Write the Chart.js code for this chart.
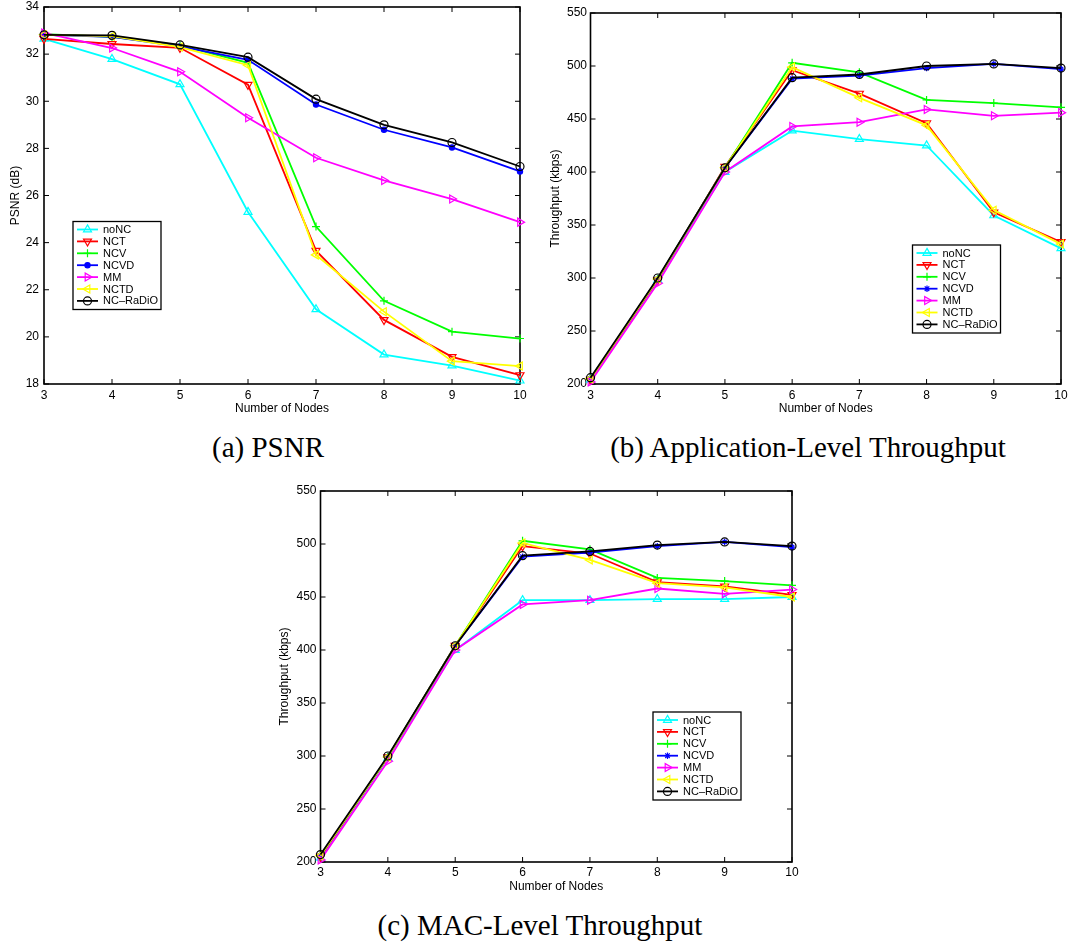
<!DOCTYPE html>
<html>
<head>
<meta charset="utf-8">
<title>NC-RaDiO results</title>
<script src="https://cdn.jsdelivr.net/npm/chart.js@4.4.1/dist/chart.umd.min.js"></script>
<style>
  html, body { margin: 0; padding: 0; background: #fff; }
  #page { position: relative; width: 1072px; height: 947px; overflow: hidden; background: #fff; }
  canvas { position: absolute; }
  .caption {
    position: absolute;
    font-family: 'Liberation Serif', 'Times New Roman', serif;
    font-size: 29px;
    line-height: 1;
    color: #000;
    white-space: nowrap;
    transform: translateX(-50%);
  }
</style>
</head>
<body>
<div id="page">
  <canvas id="psnrChart" width="545" height="420" style="left:0;top:0"></canvas>
  <canvas id="appChart" width="527" height="420" style="left:545px;top:0"></canvas>
  <canvas id="macChart" width="540" height="420" style="left:270px;top:480px"></canvas>
  <div class="caption" style="left:268px;top:433px">(a) PSNR</div>
  <div class="caption" style="left:808px;top:433px">(b) Application-Level Throughput</div>
  <div class="caption" style="left:540px;top:911px">(c) MAC-Level Throughput</div>
</div>
<script>
// x axis: number of nodes
const nodes = [3, 4, 5, 6, 7, 8, 9, 10];
const seriesNames = ['noNC', 'NCT', 'NCV', 'NCVD', 'MM', 'NCTD', 'NC\u2013RaDiO'];

// (a) PSNR in dB, one row per series (same order as seriesNames)
const psnrValues = [
  [32.65, 31.79, 30.72, 25.30, 21.17, 19.25, 18.78, 18.14],
  [32.65, 32.43, 32.27, 30.70, 23.66, 20.72, 19.15, 18.38],
  [32.85, 32.73, 32.37, 31.63, 24.68, 21.53, 20.22, 19.93],
  [32.82, 32.73, 32.33, 31.76, 29.86, 28.79, 28.04, 27.02],
  [32.90, 32.26, 31.25, 29.30, 27.60, 26.64, 25.85, 24.87],
  [32.82, 32.76, 32.30, 31.53, 23.48, 21.07, 18.97, 18.76],
  [32.82, 32.80, 32.39, 31.87, 30.09, 29.00, 28.25, 27.23]
];

// (b) application-level throughput in kbps
const appThroughput = [
  [204, 298, 400, 439, 431, 425, 359, 328],
  [204, 298, 405, 496, 474, 446, 362, 334],
  [205, 299, 404, 503, 494, 468, 465, 461],
  [205, 299, 404, 488, 491, 498, 502, 497],
  [202, 295, 400, 443, 447, 459, 453, 456],
  [205, 299, 404, 499, 470, 444, 364, 332],
  [206, 300, 404, 489, 492, 500, 502, 498]
];

// (c) MAC-level throughput in kbps
const macThroughput = [
  [204, 298, 400, 447, 447, 448, 448, 450],
  [205, 299, 404, 498, 491, 464, 460, 452],
  [206, 299, 404, 503, 495, 468, 465, 461],
  [206, 299, 404, 488, 492, 498, 502, 497],
  [202, 295, 400, 443, 447, 458, 453, 457],
  [206, 299, 404, 501, 485, 463, 459, 450],
  [207, 300, 404, 489, 493, 499, 502, 498]
];

const psnrTicks = { min: 18, max: 34, step: 2 };
const throughputTicks = { min: 200, max: 550, step: 50 };

// matlab-ish line styles
const seriesColors = ['#00ffff', '#ff0000', '#00ff00', '#0000ff', '#ff00ff', '#ffff00', '#000000'];
const seriesMarkers = ['triangle', 'triangle', 'cross', 'circle', 'triangle', 'triangle', 'circle'];
const markerRotation = [0, 180, 0, 0, 90, 270, 0];
const markerRadius = [4.6, 4.6, 4, 2.6, 4.6, 4.6, 4];
const markerFilled = [false, false, false, true, false, false, false];

const FONT = '"Liberation Sans", Arial, Helvetica, sans-serif';
const LINE_W = 1.8;

// box + inward tick marks on all four sides
const matlabFrame = {
  id: 'matlabFrame',
  beforeDatasetsDraw(chart) {
    const { ctx, chartArea: a } = chart;
    const x = chart.scales.x, y = chart.scales.y;
    ctx.save();
    ctx.strokeStyle = '#000';
    ctx.lineWidth = 1;
    ctx.beginPath();
    x.ticks.forEach((t, i) => {
      const px = x.getPixelForTick(i);
      ctx.moveTo(px, a.bottom); ctx.lineTo(px, a.bottom - 5);
      ctx.moveTo(px, a.top); ctx.lineTo(px, a.top + 5);
    });
    y.ticks.forEach((t, i) => {
      const py = y.getPixelForTick(i);
      ctx.moveTo(a.left, py); ctx.lineTo(a.left + 5, py);
      ctx.moveTo(a.right, py); ctx.lineTo(a.right - 5, py);
    });
    ctx.stroke();
    ctx.lineWidth = 1.6;
    ctx.strokeRect(a.left, a.top, a.right - a.left, a.bottom - a.top);
    ctx.restore();
  }
};

// legend drawn as a framed box inside the plot
const boxLegend = {
  id: 'boxLegend',
  afterDraw(chart, args, opts) {
    const { ctx } = chart;
    const w = 88, h = 88;
    ctx.save();
    ctx.fillStyle = '#fff';
    ctx.fillRect(opts.left, opts.top, w, h);
    ctx.strokeStyle = '#000';
    ctx.lineWidth = 1.3;
    ctx.strokeRect(opts.left, opts.top, w, h);
    ctx.font = '11px ' + FONT;
    ctx.textBaseline = 'middle';
    chart.data.datasets.forEach((ds, i) => {
      const yy = opts.top + 8 + i * 11.9;
      ctx.strokeStyle = ds.borderColor;
      ctx.lineWidth = LINE_W;
      ctx.beginPath();
      ctx.moveTo(opts.left + 4, yy);
      ctx.lineTo(opts.left + 25, yy);
      ctx.stroke();
      ctx.fillStyle = ds.pointBackgroundColor;
      ctx.lineWidth = ds.pointBorderWidth;
      Chart.helpers.drawPoint(ctx, {
        pointStyle: ds.pointStyle,
        rotation: ds.pointRotation,
        radius: ds.pointRadius,
        borderWidth: ds.pointBorderWidth
      }, opts.left + 14.5, yy);
      ctx.fillStyle = '#000';
      ctx.fillText(ds.label, opts.left + 30, yy + 0.5);
    });
    ctx.restore();
  }
};

function buildDatasets(rows, starForVD) {
  return rows.map((vals, i) => ({
    label: seriesNames[i],
    data: vals,
    borderColor: seriesColors[i],
    backgroundColor: seriesColors[i],
    borderWidth: LINE_W,
    pointStyle: (starForVD && i === 3) ? 'star' : seriesMarkers[i],
    pointRotation: markerRotation[i],
    pointRadius: (starForVD && i === 3) ? 3.2 : markerRadius[i],
    pointBorderWidth: 1.2,
    pointBorderColor: seriesColors[i],
    pointBackgroundColor: markerFilled[i] ? seriesColors[i] : 'rgba(0,0,0,0)',
    tension: 0,
    clip: false,
    order: rows.length - 1 - i
  }));
}

function makeChart(id, p) {
  const tickFont = { family: FONT, size: 12 };
  return new Chart(document.getElementById(id), {
    type: 'line',
    data: { labels: nodes, datasets: buildDatasets(p.rows, p.star) },
    options: {
      responsive: false,
      animation: false,
      events: [],
      layout: { padding: p.padding },
      plugins: {
        legend: { display: false },
        tooltip: { enabled: false },
        boxLegend: p.legend
      },
      scales: {
        x: {
          type: 'category',
          offset: false,
          grid: { display: false, drawTicks: false },
          border: { display: false },
          ticks: { color: '#000', font: tickFont, padding: p.xTickPad, maxRotation: 0, autoSkip: false },
          title: {
            display: true, text: 'Number of Nodes', color: '#000',
            font: { family: FONT, size: 12 }, padding: { top: 0, bottom: p.xTitlePad }
          },
          afterFit(s) {
            s.height = p.xHeight;
            s.paddingLeft = 0; s.paddingRight = 0;
          }
        },
        y: {
          type: 'linear',
          min: p.ticks.min,
          max: p.ticks.max,
          grid: { display: false, drawTicks: false },
          border: { display: false },
          ticks: { color: '#000', font: tickFont, padding: p.yTickPad, stepSize: p.ticks.step },
          title: {
            display: true, text: p.yTitle, color: '#000',
            font: { family: FONT, size: 12 }, padding: { top: p.yTitlePad, bottom: 0 }
          },
          afterFit(s) {
            s.width = p.yWidth;
            s.paddingTop = 0; s.paddingBottom = 0;
          }
        }
      }
    },
    plugins: [matlabFrame, boxLegend]
  });
}

makeChart('psnrChart', {
  rows: psnrValues, star: false, ticks: psnrTicks, yTitle: 'PSNR (dB)',
  padding: { left: 0, top: 7, right: 25, bottom: 0 },
  yWidth: 44, xHeight: 36, yTickPad: 5, xTickPad: 4, yTitlePad: 8.3, xTitlePad: 3.8,
  legend: { left: 73, top: 221.5 }
});

makeChart('appChart', {
  rows: appThroughput, star: true, ticks: throughputTicks, yTitle: 'Throughput (kbps)',
  padding: { left: 0, top: 13, right: 11, bottom: 0 },
  yWidth: 45.5, xHeight: 36, yTickPad: 3.5, xTickPad: 4, yTitlePad: 3.8, xTitlePad: 3.8,
  legend: { left: 367.5, top: 245 }
});

makeChart('macChart', {
  rows: macThroughput, star: true, ticks: throughputTicks, yTitle: 'Throughput (kbps)',
  padding: { left: 0, top: 11, right: 18, bottom: 0 },
  yWidth: 50.5, xHeight: 38, yTickPad: 4, xTickPad: 3.5, yTitlePad: 7.3, xTitlePad: 5.8,
  legend: { left: 383, top: 232 }
});
</script>
</body>
</html>
